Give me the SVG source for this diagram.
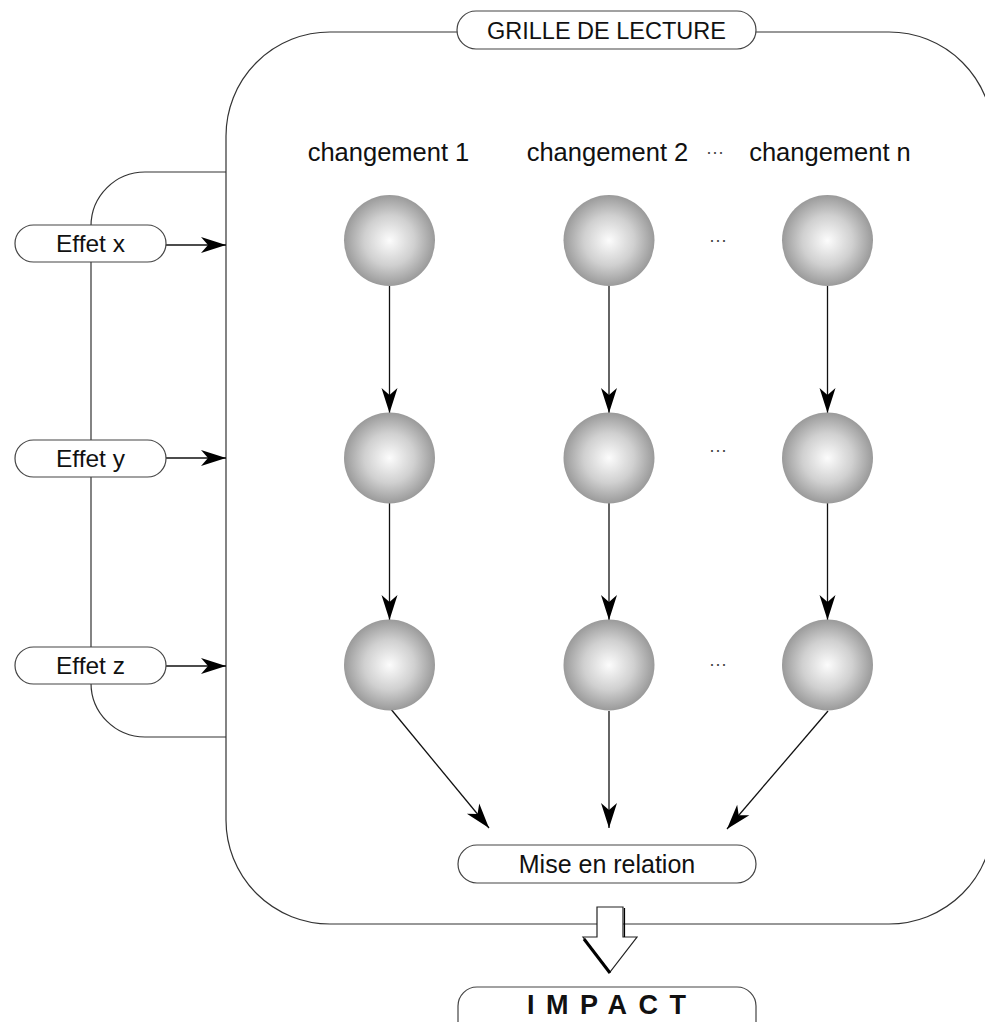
<svg xmlns="http://www.w3.org/2000/svg" width="985" height="1022" viewBox="0 0 985 1022">
<style>
.ln{fill:none;stroke:#333;stroke-width:1.2}
.pill{fill:#fff;stroke:#444;stroke-width:1.2}
.arr{fill:none;stroke:#111;stroke-width:1.3;marker-end:url(#ah)}
.t{font-family:"Liberation Sans",Arial,sans-serif;fill:#111}
.lab{font-size:24.5px;text-anchor:middle}
.col{font-size:25.5px;text-anchor:middle}
.dots{font-size:18px;fill:#444;text-anchor:middle}
.ball{fill:url(#g)}
</style>
<defs>
<radialGradient id="g" cx="0.5" cy="0.5" r="0.5">
<stop offset="0" stop-color="#fcfcfc"/>
<stop offset="0.55" stop-color="#d0d0d0"/>
<stop offset="1" stop-color="#9a9a9a"/>
</radialGradient>
<marker id="ah" markerUnits="userSpaceOnUse" viewBox="-26 -9 28 18" markerWidth="28" markerHeight="18" refX="0" refY="0" orient="auto">
<path d="M0,0 L-25,-8 L-18,0 L-25,8 Z" fill="#000"/>
</marker>
</defs>

<g id="frame">
<rect x="226" y="32" width="767" height="892" rx="104" ry="104" class="ln"/>
</g>

<g id="bracket">
<path class="ln" d="M226,172 H145 A54,54 0 0 0 91,226 V683 A54,54 0 0 0 145,737 H226"/>
</g>

<g id="connectors">
<line class="arr" x1="166" y1="245" x2="226" y2="245"/>
<line class="arr" x1="166" y1="458" x2="226" y2="458"/>
<line class="arr" x1="166" y1="666" x2="226" y2="666"/>
<line class="arr" x1="389.5" y1="286" x2="389.5" y2="413"/>
<line class="arr" x1="609" y1="286" x2="609" y2="413"/>
<line class="arr" x1="827.5" y1="286" x2="827.5" y2="413"/>
<line class="arr" x1="389.5" y1="503" x2="389.5" y2="620"/>
<line class="arr" x1="609" y1="503" x2="609" y2="620"/>
<line class="arr" x1="827.5" y1="503" x2="827.5" y2="620"/>
<line class="arr" x1="390" y1="708" x2="489" y2="828"/>
<line class="arr" x1="609" y1="711" x2="609" y2="828"/>
<line class="arr" x1="828" y1="711" x2="727" y2="829"/>
</g>

<g id="title">
<rect x="457" y="11" width="299" height="38" rx="19" class="pill"/>
<text class="t" x="606.5" y="38.5" font-size="23.5" text-anchor="middle">GRILLE DE LECTURE</text>
</g>

<g id="effet-x"><rect x="15" y="225" width="151" height="37" rx="18.5" class="pill"/><text class="t lab" x="90.5" y="252">Effet x</text></g>
<g id="effet-y"><rect x="15" y="440" width="151" height="37" rx="18.5" class="pill"/><text class="t lab" x="90.5" y="467">Effet y</text></g>
<g id="effet-z"><rect x="15" y="647" width="151" height="37" rx="18.5" class="pill"/><text class="t lab" x="90.5" y="674">Effet z</text></g>

<g id="labels">
<text class="t col" x="388.5" y="161">changement 1</text>
<text class="t col" x="607.5" y="161">changement 2</text>
<text class="t dots" x="715" y="158">···</text>
<text class="t col" x="830" y="161">changement n</text>
</g>

<g id="row1">
<circle class="ball" cx="389.5" cy="240.5" r="45.5"/>
<circle class="ball" cx="609" cy="240.5" r="45.5"/>
<text class="t dots" x="718" y="246">···</text>
<circle class="ball" cx="827.5" cy="240.5" r="45.5"/>
</g>
<g id="row2">
<circle class="ball" cx="389.5" cy="458" r="45.5"/>
<circle class="ball" cx="609" cy="458" r="45.5"/>
<text class="t dots" x="718" y="456">···</text>
<circle class="ball" cx="827.5" cy="458" r="45.5"/>
</g>
<g id="row3">
<circle class="ball" cx="389.5" cy="665" r="45.5"/>
<circle class="ball" cx="609" cy="665" r="45.5"/>
<text class="t dots" x="718" y="670">···</text>
<circle class="ball" cx="827.5" cy="665" r="45.5"/>
</g>

<g id="mise-en-relation">
<rect x="458" y="845" width="298" height="38" rx="19" class="pill"/>
<text class="t" x="607" y="873" font-size="25" text-anchor="middle">Mise en relation</text>
</g>

<g id="big-arrow">
<polygon points="597,907 623,907 623,937 637,937 610,972 583,937 597,937" fill="#fff" stroke="#222" stroke-width="1.2"/>
<line x1="584" y1="939" x2="610" y2="973" stroke="#000" stroke-width="3"/>
<line x1="624.5" y1="908" x2="624.5" y2="937" stroke="#000" stroke-width="1.2"/>
</g>

<g id="impact">
<rect x="458" y="987" width="298" height="60" rx="19" class="pill"/>
<text class="t" x="527" y="1014" font-size="27" font-weight="bold" letter-spacing="11.5">IMPACT</text>
</g>
</svg>
